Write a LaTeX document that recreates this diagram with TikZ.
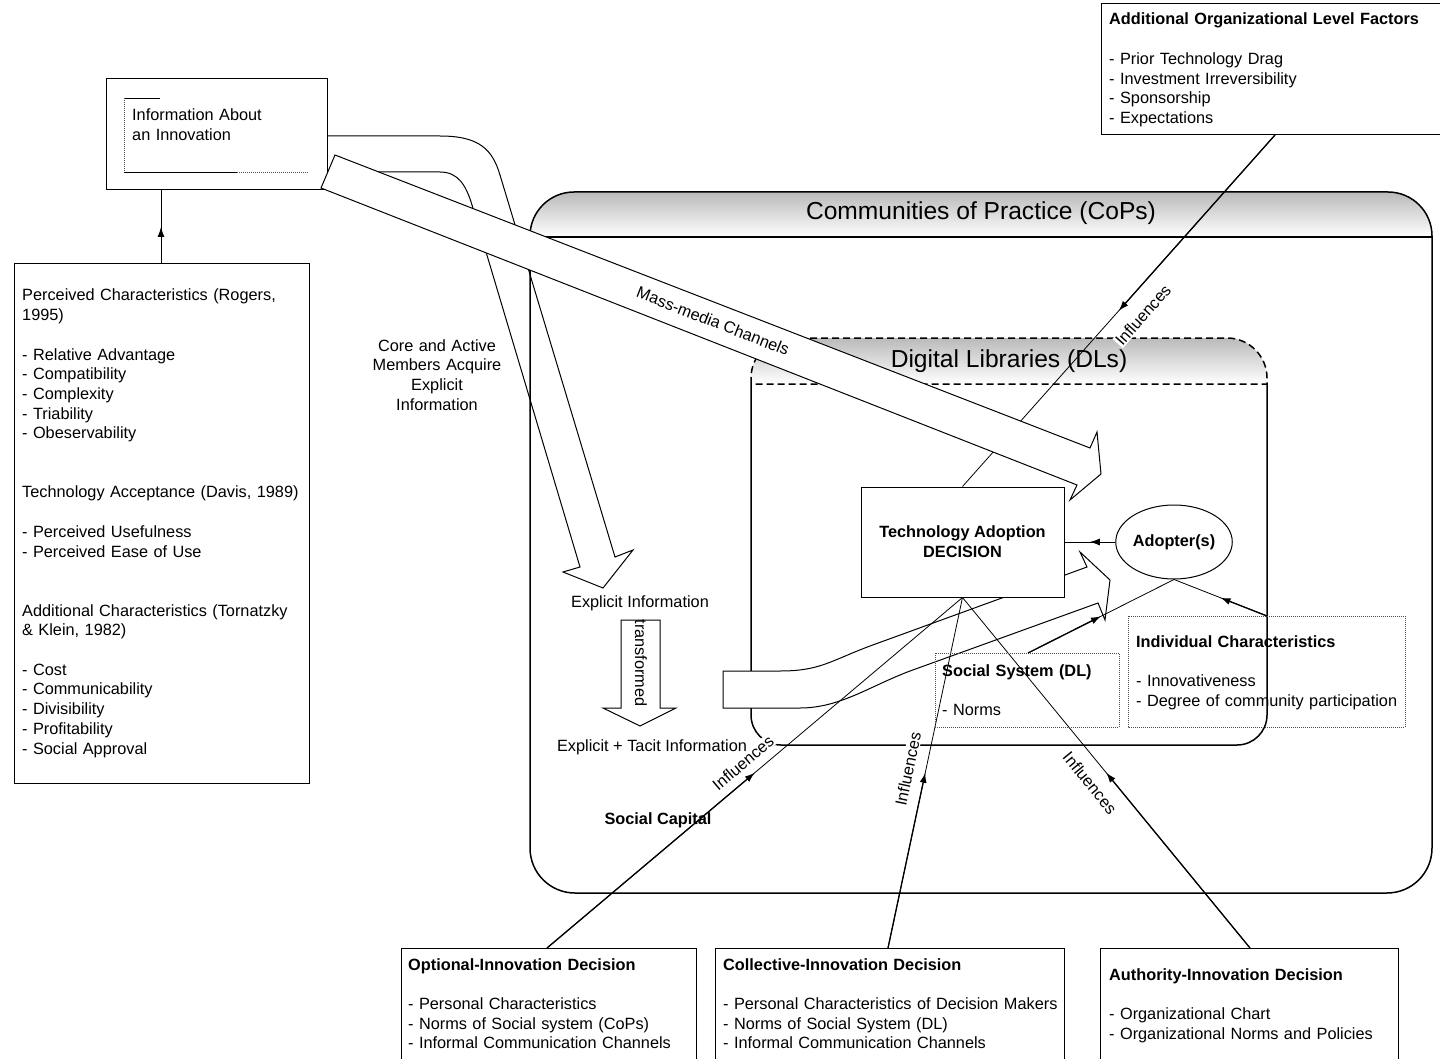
\documentclass[tikz,border=0pt]{standalone}
\usepackage{fontspec}
\setmainfont{Liberation Sans}
\usetikzlibrary{arrows.meta,decorations.markings,shapes.geometric,calc}
\tikzset{
  basefont/.style={font=\fontsize{16.3}{19.7}\selectfont},
  txt/.style={basefont, inner sep=0pt, anchor=base west, align=left, text width=#1},
  txt/.default=300pt,
  ctxt/.style={basefont, inner sep=0pt, anchor=base, align=center},
  title/.style={font=\fontsize{24.6}{28}\selectfont, inner sep=0pt},
  box/.style={draw=black, line width=1pt},
  dotbox/.style={draw=black!70, line width=0.8pt, dash pattern=on 1pt off 1pt},
  thinline/.style={line width=0.8pt},
  thickhalf/.style={line width=1.3pt, -{Latex[length=10pt,width=7pt]}},
  midarr/.style={line width=0.9pt, postaction={decorate,decoration={markings,mark=at position 0.5 with {\arrow{Latex[length=10pt,width=7pt]}}}}},
  lab/.style={basefont, fill=white, inner sep=1pt},
  hollow/.style={draw=black, line width=1pt, line join=miter},
  outline/.style={draw=black, line width=1.5pt},
}
\newcommand\myHalfArrow[2]{%
  \draw[thinline] (#1) -- (#2);
  \draw[thickhalf] (#1) -- ($(#1)!0.5!(#2)$);}
\begin{document}
\begin{tikzpicture}[x=1pt,y=-1pt]
\path[use as bounding box] (0,0) rectangle (1440,1059);
\clip (0,0) rectangle (1440,1059);

% ---------- Communities of Practice box ----------
\shade[top color=black!27, bottom color=white]
  (530,237) -- (530,236) .. controls (530,211.7) and (549.7,192) .. (574,192)
  -- (1388,192) .. controls (1412.3,192) and (1432,211.7) .. (1432,236) -- (1432,237) -- cycle;
\draw[outline]
  (530,237) -- (530,236) .. controls (530,211.7) and (549.7,192) .. (574,192)
  -- (1388,192) .. controls (1412.3,192) and (1432,211.7) .. (1432,236) -- (1432,237);
\draw[outline] (530,237) -- (1432,237);
\draw[outline]
  (530,237) -- (530,848) .. controls (530,872.9) and (550.1,893) .. (575,893)
  -- (1387,893) .. controls (1411.9,893) and (1432,872.9) .. (1432,848) -- (1432,237);
\node[title] (copsT) at (981,213) {Communities of Practice (CoPs)};

% ---------- Digital Libraries box ----------
\shade[top color=black!27, bottom color=white]
  (751,384) -- (751,378) .. controls (751,356) and (769,338) .. (791,338)
  -- (1227,338) .. controls (1249,338) and (1267,356) .. (1267,378) -- (1267,384) -- cycle;
\draw[outline, dash pattern=on 7pt off 4pt]
  (751,384) -- (751,378) .. controls (751,356) and (769,338) .. (791,338)
  -- (1227,338) .. controls (1249,338) and (1267,356) .. (1267,378) -- (1267,384) -- cycle;
\draw[outline]
  (751,384) -- (751,715) .. controls (751,731.6) and (764.4,745) .. (781,745)
  -- (1237,745) .. controls (1253.6,745) and (1267,731.6) .. (1267,715) -- (1267,384);
\node[title] (dlT) at (1009,361) {Digital Libraries (DLs)};

% ---------- Information box ----------
\node[box, minimum width=221pt, minimum height=111pt, inner sep=0pt] (info) at (216.5,134.5) {};
\draw[line width=0.8pt] (160,98) -- (124,98);
\draw[dotbox] (124,98) -- (124,172);
\draw[line width=0.8pt] (124,172) -- (237,172);
\draw[dotbox] (237,172) -- (309,172);
\node[txt=180pt] (infoT) at (132,121) {Information About\\an Innovation};

% ---------- Core and Active Members arrow ----------
\coordinate (coreA) at (327,136);
\coordinate (coreB) at (327,172);
\draw[hollow]
  (coreA) -- (440,136) .. controls (480,136) and (492.5,150) .. (500,175)
  -- (615,557) -- (633,550) -- (603,588) -- (563,572) -- (580,567)
  -- (472,205) .. controls (466,185) and (458,172) .. (440,172) -- (coreB);
\node[ctxt, text width=170pt] (coreT) at (437,351) {Core and Active\\Members Acquire\\Explicit\\Information};

% ---------- TAD box and top influence ----------
\node[box, fill=white, minimum width=203pt, minimum height=110pt, inner sep=0pt] (tad) at (962.5,542) {};
\coordinate (aolB) at (1275,135);
\myHalfArrow{aolB}{tad.north}
\node[lab, rotate=48.4] (inf0) at (1143,315) {Influences};

% ---------- Mass-media arrow ----------
\draw[hollow, fill=white]
  (335,155) -- (1090,448) -- (1097,432) -- (1101,474) -- (1070,500) -- (1077,485) -- (321,188) -- cycle;
\node[basefont, inner sep=0pt, rotate=-21.3] (massT) at (713,321) {Mass-media Channels};

% ---------- Social capital arrow ----------
\draw[hollow, fill=white]
  (723,671) -- (780,671) .. controls (820,671) and (830,661) .. (870,646)
  -- (1087,567) -- (1080,552) -- (1110,580) -- (1105,620) -- (1098,603)
  -- (910,671) .. controls (870,686) and (840,708) .. (800,708) -- (723,708) -- cycle;

% TAD on top of the social capital arrow
\node[box, fill=white, minimum width=203pt, minimum height=110pt, inner sep=0pt, align=center,
      font=\fontsize{16.3}{19.7}\selectfont\bfseries] (tad2) at (962.5,542) {Technology Adoption\\DECISION};

% ---------- Transformed arrow ----------
\draw[hollow] (621,620) -- (660,620) -- (660,708) -- (676,708) -- (640,726) -- (603,708) -- (621,708) -- cycle;
\node[basefont, inner sep=0pt, rotate=-90] (transT) at (641,663) {transformed};
\node[ctxt] (explT) at (640,607) {Explicit Information};
\node[ctxt] (tacitT) at (652,751) {Explicit + Tacit Information};
\node[ctxt, font=\fontsize{16.3}{19.7}\selectfont\bfseries] (scT) at (658,824) {Social Capital};

% ---------- Bottom decision boxes ----------
\draw[box] (401,1070) -- (401,948) -- (696,948) -- (696,1070);
\draw[box] (715,1070) -- (715,948) -- (1064,948) -- (1064,1070);
\draw[box] (1100,1070) -- (1100,948) -- (1398,948) -- (1398,1070);
\coordinate (optT) at (547,948);
\coordinate (colT) at (888,948);
\coordinate (autT) at (1250,948);
\myHalfArrow{optT}{tad.south}
\myHalfArrow{colT}{tad.south}
\myHalfArrow{autT}{tad.south}
\node[lab, rotate=40.2] (inf1) at (743,763) {Influences};
\node[lab, rotate=78.1] (inf2) at (908,769) {Influences};
\node[lab, rotate=-50.6] (inf3) at (1090,783) {Influences};

\node[txt=290pt] (optX) at (408,970) {\textbf{Optional-Innovation Decision}\\[19.7pt]- Personal Characteristics\\- Norms of Social system (CoPs)\\- Informal Communication Channels};
\node[txt=340pt] (colX) at (723,970) {\textbf{Collective-Innovation Decision}\\[19.7pt]- Personal Characteristics of Decision Makers\\- Norms of Social System (DL)\\- Informal Communication Channels};
\node[txt=290pt] (autX) at (1109,980) {\textbf{Authority-Innovation Decision}\\[19.7pt]- Organizational Chart\\- Organizational Norms and Policies};

% ---------- Adopter and characteristics ----------
\node[ellipse, draw, line width=1pt, fill=white, minimum width=112pt, minimum height=74pt, inner sep=0pt,
      font=\fontsize{16.3}{19.7}\selectfont\bfseries] (adopter) at (1174,542) {Adopter(s)};
\draw[midarr] (adopter.west) -- (tad.east);

\draw[dotbox] (935,653) rectangle (1119,727);
\draw[dotbox] (1128,616) rectangle (1405,727);
\coordinate (ssTop) at (1028,653);
\coordinate (icTop) at (1267,616);
\myHalfArrow{ssTop}{adopter.south}
\myHalfArrow{icTop}{adopter.south}
\node[txt=180pt] (ssX) at (942,676) {\textbf{Social System (DL)}\\[19.7pt]- Norms};
\node[txt=275pt] (icX) at (1136,647) {\textbf{Individual Characteristics}\\[19.7pt]- Innovativeness\\- Degree of community participation};

% ---------- Additional organizational factors ----------
\draw[box] (1450,4) -- (1101,4) -- (1101,135) -- (1450,135);
\node[txt=330pt] (aolX) at (1109,25) {\textbf{Additional Organizational Level Factors}\\[19.7pt]- Prior Technology Drag\\- Investment Irreversibility\\- Sponsorship\\- Expectations};

% ---------- Perceived characteristics box ----------
\node[box, minimum width=295pt, minimum height=519pt, inner sep=0pt] (chars) at (161.5,523.5) {};
\coordinate (charsTop) at (161,264);
\coordinate (infoBot) at (161,190);
\draw[midarr] (charsTop) -- (infoBot);
\node[txt=285pt] (charsX) at (22,301) {Perceived Characteristics (Rogers,\\1995)\\[19.7pt]- Relative Advantage\\- Compatibility\\- Complexity\\- Triability\\- Obeservability\\[39.4pt]Technology Acceptance (Davis, 1989)\\[19.7pt]- Perceived Usefulness\\- Perceived Ease of Use\\[39.4pt]Additional Characteristics (Tornatzky\\\& Klein, 1982)\\[19.7pt]- Cost\\- Communicability\\- Divisibility\\- Profitability\\- Social Approval};
\end{tikzpicture}
\end{document}
